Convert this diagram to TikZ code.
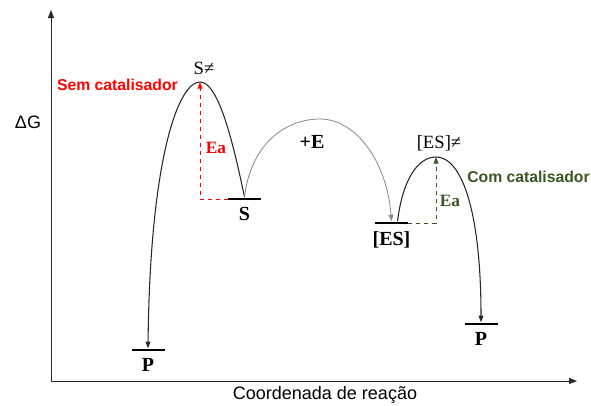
\documentclass[tikz,border=0pt]{standalone}
\usepackage{fontspec}
\setmainfont{Liberation Serif}
\setsansfont{Liberation Sans}
\usetikzlibrary{arrows.meta,positioning,calc}
\definecolor{semRed}{RGB}{255,0,0}
\definecolor{comGreen}{RGB}{56,87,35}
\definecolor{arcGray}{RGB}{135,135,135}
\definecolor{lnDark}{RGB}{40,40,40}

\begin{document}
\begin{tikzpicture}[x=0.75pt,y=-0.75pt,
  ax/.style={-{Triangle[length=6pt,width=4.5pt]},line width=0.6pt,lnDark},
  lvl/.style={fill=black,inner sep=0pt,minimum width=24.75pt,minimum height=2.2pt},
  crv/.style={-{Triangle[length=5pt,width=3.6pt]},line width=0.8pt,lnDark},
  arc/.style={-{Triangle[length=5pt,width=3.6pt]},line width=0.6pt,arcGray},
  eaS/.style={-{Triangle[length=5pt,width=3.6pt]},dashed,line width=0.75pt,semRed},
  eaC/.style={-{Triangle[length=5pt,width=3.6pt]},dashed,line width=0.75pt,comGreen},
  axl/.style={font=\sffamily\fontsize{13.5}{16}\selectfont,inner sep=0pt},
  cat/.style={font=\sffamily\bfseries\fontsize{11.8}{14}\selectfont,inner sep=0pt},
  spc/.style={font=\bfseries\fontsize{15}{18}\selectfont,inner sep=0pt},
  tsl/.style={font=\fontsize{14}{17}\selectfont,inner sep=0pt},
  eal/.style={font=\bfseries\fontsize{13}{15}\selectfont,inner sep=0pt}]
\useasboundingbox (0,0) rectangle (591,405);
% eixos
\coordinate (o) at (51,381);
\coordinate (ytop) at (51,10);
\coordinate (xend) at (577,381);
\draw[ax] (o) -- (ytop);
\draw[ax] (o) -- (xend);
\node[axl] (dg) at (28,122) {ΔG};
\node[axl] (xlab) at (325,395) {Coordenada de reação};
% niveis
\node[lvl] (p1) at (148,350) {};
\node[lvl] (s) at (244.5,199) {};
\node[lvl] (es) at (391.5,223) {};
\node[lvl] (p2) at (481,324) {};
\coordinate (ts1) at (200,82);
\coordinate (ts2) at (436,157);
\node[spc,below=5pt of p1] (p1l) {P};
\node[spc,below=5pt of s] (sl) {S};
\node[spc,below=5pt of es] (esl) {[ES]};
\node[spc,below=5pt of p2] (p2l) {P};
\node[tsl] (ts1l) at (204,68) {S≠};
\node[tsl] (ts2l) at (439,143) {[ES]≠};
% curvas
\draw[crv] (s.north) .. controls (229,121) and (215,82) .. (ts1)
  .. controls (178,82) and (150,160) .. (p1.north);
\draw[arc] (s.north) .. controls (250,148) and (282,119) .. (320,119)
  .. controls (356,119) and (387,162) .. (es.north);
\draw[crv] ($(es.north)+(6,0)$) .. controls (403,177) and (419,157) .. (ts2)
  .. controls (462,157) and (481,212) .. (p2.north);
\node[spc] (plusE) at (312,142) {+E};
% energia de ativacao
\draw[eaS] (s.west) -| (ts1);
\draw[eaC] (es.east) -| (ts2);
\node[eal,text=semRed] (eaSl) at (216,148) {Ea};
\node[eal,text=comGreen] (eaCl) at (450,201) {Ea};
\node[cat,text=semRed] (semL) at (117.5,85) {Sem catalisador};
\node[cat,text=comGreen] (comL) at (528.5,177) {Com catalisador};
\end{tikzpicture}
\end{document}
